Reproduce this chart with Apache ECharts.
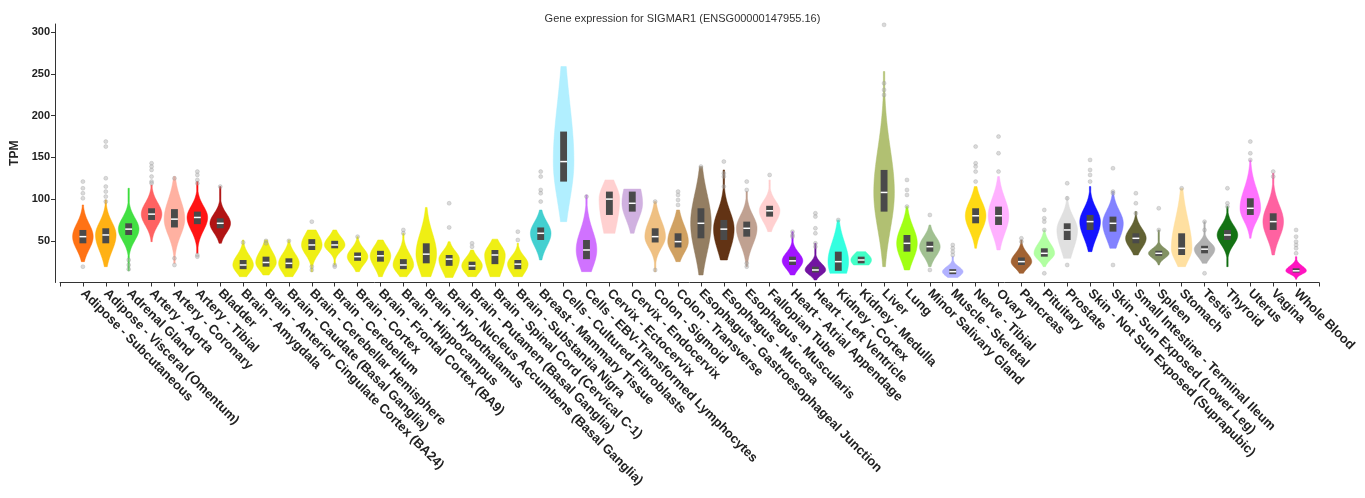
<!DOCTYPE html>
<html>
<head>
<meta charset="utf-8">
<script src="https://cdn.jsdelivr.net/npm/echarts@6/dist/echarts.min.js"></script>
<style>
html,body{margin:0;padding:0;background:#fff;}
#chart{width:1365px;height:498px;}
</style>
</head>
<body>
<div id="chart"></div>
<script>
const titleText = 'Gene expression for SIGMAR1 (ENSG00000147955.16)';
const tissues = [
 'Adipose - Subcutaneous','Adipose - Visceral (Omentum)','Adrenal Gland','Artery - Aorta','Artery - Coronary','Artery - Tibial','Bladder',
 'Brain - Amygdala','Brain - Anterior Cingulate Cortex (BA24)','Brain - Caudate (Basal Ganglia)','Brain - Cerebellar Hemisphere','Brain - Cerebellum',
 'Brain - Cortex','Brain - Frontal Cortex (BA9)','Brain - Hippocampus','Brain - Hypothalamus','Brain - Nucleus Accumbens (Basal Ganglia)',
 'Brain - Putamen (Basal Ganglia)','Brain - Spinal Cord (Cervical C-1)','Brain - Substantia Nigra','Breast - Mammary Tissue','Cells - Cultured Fibroblasts',
 'Cells - EBV-Transformed Lymphocytes','Cervix - Ectocervix','Cervix - Endocervix','Colon - Sigmoid','Colon - Transverse',
 'Esophagus - Gastroesophageal Junction','Esophagus - Mucosa','Esophagus - Muscularis','Fallopian Tube','Heart - Atrial Appendage','Heart - Left Ventricle',
 'Kidney - Cortex','Kidney - Medulla','Liver','Lung','Minor Salivary Gland','Muscle - Skeletal','Nerve - Tibial','Ovary','Pancreas','Pituitary','Prostate',
 'Skin - Not Sun Exposed (Suprapubic)','Skin - Sun Exposed (Lower Leg)','Small Intestine - Terminal Ileum','Spleen','Stomach','Testis','Thyroid','Uterus','Vagina','Whole Blood'
];
const colors = [
 '#FF6600','#FFAA00','#33DD33','#FF5555','#FFAA99','#FF0000','#AA0000',
 '#EEEE00','#EEEE00','#EEEE00','#EEEE00','#EEEE00','#EEEE00','#EEEE00','#EEEE00','#EEEE00','#EEEE00','#EEEE00','#EEEE00','#EEEE00',
 '#33CCCC','#AAEEFF','#CC66FF','#FFCCCC','#CCAADD','#EEBB77','#CC9955','#8B7355','#552200','#BB9988','#FFCCCC','#9900FF','#660099',
 '#22FFDD','#33FFC2','#AABB66','#99FF00','#99BB88','#AAAAFF','#FFD700','#FFAAFF','#995522','#AAFF99','#DDDDDD',
 '#0000FF','#7777FF','#555522','#778855','#FFDD99','#AAAAAA','#006600','#FF66FF','#FF5599','#FF00BB'
];
const lowVals = [25,19,14,49,23,35,47, 7,9,7,13,21,13,7,7,7,6,7,7,7, 27,73,13,59,59,13,25,9,27,19,61,9,3, 11,21,19,15,19,6,41,39,11,19,29, 37,41,33,21,19,23,19,53,33,4];
const q1Vals  = [47,47,57,75,66,70,65, 16,19,17,39,41,26,25,16,23,20,15,22,16, 51,121,28,81,85,48,42,53,51,55,79,21,12, 14,23,85,37,37,10,71,69,21,31,51, 63,61,47,32,33,35,51,81,63,12];
const medVals = [55,57,64,82,76,78,71, 21,24,23,45,45,31,32,21,34,28,20,33,22, 59,145,39,100,95,55,49,71,64,65,86,26,15, 25,27,108,47,43,13,80,80,25,35,63, 73,71,53,35,41,40,57,89,73,14];
const q3Vals  = [63,65,71,89,88,85,77, 27,31,29,52,50,36,38,28,47,33,25,39,27, 66,181,51,109,109,65,59,89,75,73,92,31,19, 37,31,135,57,49,16,89,91,30,41,71, 81,79,59,38,59,44,63,101,83,17];
const highVals= [93,99,113,117,127,121,115, 51,51,51,63,63,55,51,59,90,49,39,52,47, 87,259,105,123,112,97,87,139,135,109,123,61,47, 75,37,253,91,69,31,115,127,51,63,103, 115,109,85,63,113,73,91,147,131,31];
const outlierVals = [
 [121,113,107,101,19],[169,163,125,115,109,103,97],[27,21,16],[143,139,135,127,121,119],[125,29,21],[133,129,123,119,33,31],[115],
 [48],[50,47],[50],[73,19,15],[21,19],[55],[],[63,59],[],[95,66],[47,43],[],[61,51],
 [133,127,111,107,97],[],[103],[],[],[97,15],[109,105,99,93],[139],[145,131,127,115],[121,111,23,19],[129],[61,57,55],[83,79,65,59,47,43],
 [75],[],[309,239,231,225],[123,111,105,91],[81,15],[45,41,37,33],[163,143,139,133,121],[175,155,133],[53,49],[87,77,73,63,11],[119,101,21],
 [147,135,129,121],[137,109,107,21],[107,95,83],[89,63],[113],[73,63,11],[113,95,91],[169,155,147],[133,127],[63,55,49,45,41,35]
];
const yTicks = [50,100,150,200,250,300];

const axisCats = [''].concat(tissues).concat(['']);
const violinData = tissues.map((t,i)=>({
  value:[i+1, lowVals[i], q1Vals[i], medVals[i], q3Vals[i], highVals[i]],
  itemStyle:{color:colors[i]}
}));
const outlierData = [];
outlierVals.forEach((arr,i)=>arr.forEach(v=>outlierData.push([i+1, v])));

function renderViolin(params, api){
  const idx = api.value(0), lo = api.value(1), q1 = api.value(2), md = api.value(3), q3 = api.value(4), hi = api.value(5);
  const band = api.size([1,0])[0];
  const W = band*0.45;
  const sLo = Math.max((md-q1)/0.674*1.3, 1);
  const sHi = Math.max((q3-md)/0.674*1.3, 1);
  const N = 80;
  const left = [], right = [];
  for(let k=0;k<=N;k++){
    const v = lo + (hi-lo)*k/N;
    const z = v < md ? (v-md)/sLo : (v-md)/sHi;
    const w = Math.max(W*Math.exp(-0.5*z*z), 0.7);
    const p = api.coord([idx, v]);
    left.push([p[0]-w, p[1]]);
    right.unshift([p[0]+w, p[1]]);
  }
  const pts = left.concat(right);
  const c = api.coord([idx, md]);
  const pq1 = api.coord([idx, q1]);
  const pq3 = api.coord([idx, q3]);
  const bw = band*0.3;
  const color = api.visual('color');
  return {
    type:'group',
    children:[
      {type:'polygon', shape:{points:pts, smooth:0}, style:{fill:color, stroke:color, lineWidth:0.5, opacity:0.92}},
      {type:'rect', shape:{x:c[0]-bw/2, y:pq3[1], width:bw, height:Math.max(pq1[1]-pq3[1],1)}, style:{fill:'#4a4a4a'}},
      {type:'line', shape:{x1:c[0]-bw/2, y1:c[1], x2:c[0]+bw/2, y2:c[1]}, style:{stroke:'#ffffff', lineWidth:1.5}}
    ]
  };
}

const chart = echarts.init(document.getElementById('chart'), null, {renderer:'canvas'});
chart.setOption({
  backgroundColor:'#ffffff',
  animation:false,
  title:{text:titleText, left:'center', top:8, textStyle:{fontSize:11, fontWeight:'normal', color:'#333', fontFamily:'Liberation Sans, Arial, sans-serif'}},
  grid:{left:60, right:46, top:24, bottom:215.5, containLabel:false},
  xAxis:{
    type:'category', data:axisCats, boundaryGap:false,
    axisLine:{lineStyle:{color:'#333', width:1}},
    axisTick:{show:true, interval:0, length:4, lineStyle:{color:'#333'}},
    axisLabel:{interval:0, rotate:-45, margin:9, fontSize:13, fontWeight:'bold', color:'#222', fontFamily:'Liberation Sans, Arial, sans-serif'},
    splitLine:{show:false}
  },
  yAxis:{
    type:'value', min:0, max:310, interval:50, offset:5,
    name:'TPM', nameLocation:'middle', nameGap:33,
    nameTextStyle:{fontSize:12, fontWeight:'bold', color:'#222', fontFamily:'Liberation Sans, Arial, sans-serif'},
    axisLine:{show:true, lineStyle:{color:'#333', width:1}},
    axisTick:{show:true, length:4, customValues:yTicks, lineStyle:{color:'#333'}},
    axisLabel:{customValues:yTicks, fontSize:11, fontWeight:'bold', color:'#222', margin:5, fontFamily:'Liberation Sans, Arial, sans-serif'},
    splitLine:{show:false}
  },
  series:[
    {type:'custom', renderItem:renderViolin, data:violinData, encode:{x:0, y:[1,5]}, z:2},
    {type:'scatter', data:outlierData, symbol:'circle', symbolSize:4,
     itemStyle:{color:'rgba(170,170,170,0.55)', borderColor:'rgba(140,140,140,0.6)', borderWidth:0.5}, z:3}
  ]
});
</script>
</body>
</html>
